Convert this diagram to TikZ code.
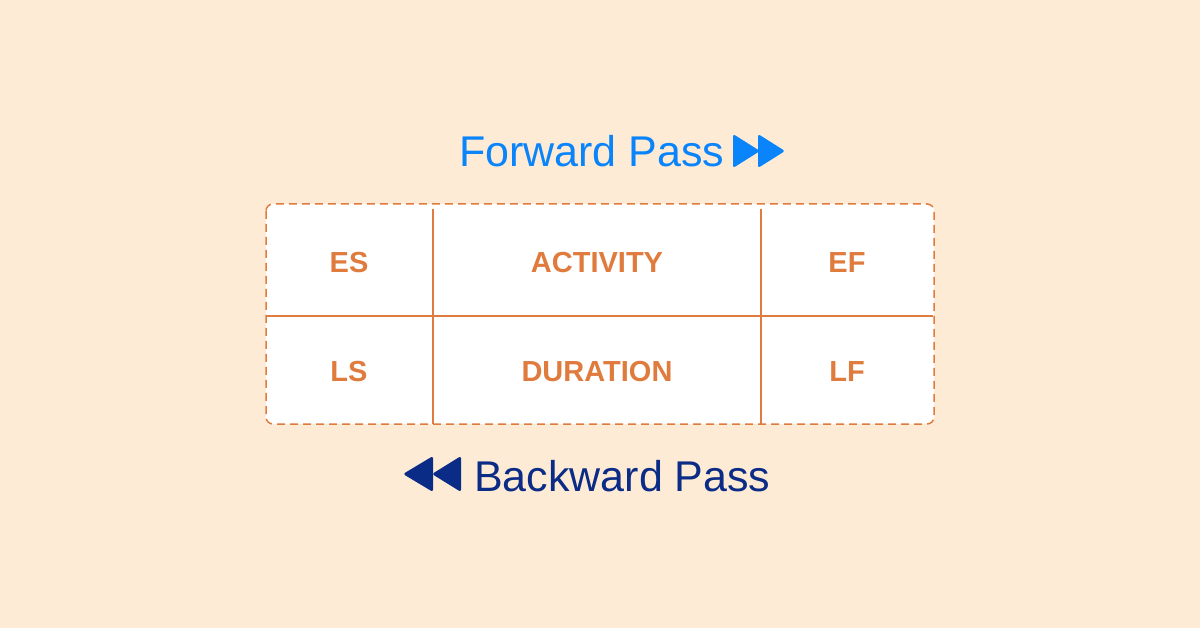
\documentclass[tikz,border=0pt]{standalone}
\usepackage{fontspec}
\setmainfont{Liberation Sans}
\definecolor{bg}{HTML}{FEEBD5}
\definecolor{orng}{HTML}{E07B3E}
\definecolor{fwd}{HTML}{0A84FA}
\definecolor{bwd}{HTML}{0B2C86}
\begin{document}
\begin{tikzpicture}[x=1pt,y=-1pt,
  cell/.style={text=orng,font=\fontsize{29}{34}\selectfont\bfseries,inner sep=0pt},
  pass/.style={inner sep=0pt,anchor=base west,font=\fontsize{43}{50}\selectfont},
  grid/.style={draw=orng,line width=1.5pt}]
\fill[bg] (0,0) rectangle (1200,628);
\useasboundingbox (0,0) rectangle (1200,628);
% table box
\draw[draw=orng,line width=1.5pt,fill=white,dash pattern=on 8pt off 5pt,rounded corners=7pt] (266,204) rectangle (934,424);
\coordinate (hl) at (266,316);
\coordinate (hr) at (933,316);
\coordinate (v1t) at (433,209);
\coordinate (v1b) at (433,424);
\coordinate (v2t) at (761,209);
\coordinate (v2b) at (761,424);
\draw[grid] (hl) -- (hr);
\draw[grid] (v1t) -- (v1b);
\draw[grid] (v2t) -- (v2b);
% labels
\node[cell] (es) at (349,263) {ES};
\node[cell] (act) at (597,263) {ACTIVITY};
\node[cell] (ef) at (847,263) {EF};
\node[cell] (ls) at (349,372) {LS};
\node[cell] (dur) at (597,372) {DURATION};
\node[cell] (lf) at (847,372) {LF};
% forward pass
\node[pass,text=fwd] (fp) at (459,167) {Forward Pass};
\fill[fwd,rounded corners=2.5pt] (733,134) -- (760,151) -- (733,168) -- cycle;
\fill[fwd,rounded corners=2.5pt] (758,134) -- (785,151) -- (758,168) -- cycle;
% backward pass
\node[pass,text=bwd] (bp) at (474,491) {Backward Pass};
\fill[bwd,rounded corners=2.5pt] (461,456) -- (432,474) -- (461,492) -- cycle;
\fill[bwd,rounded corners=2.5pt] (433,456) -- (403,474) -- (433,492) -- cycle;
\end{tikzpicture}
\end{document}
